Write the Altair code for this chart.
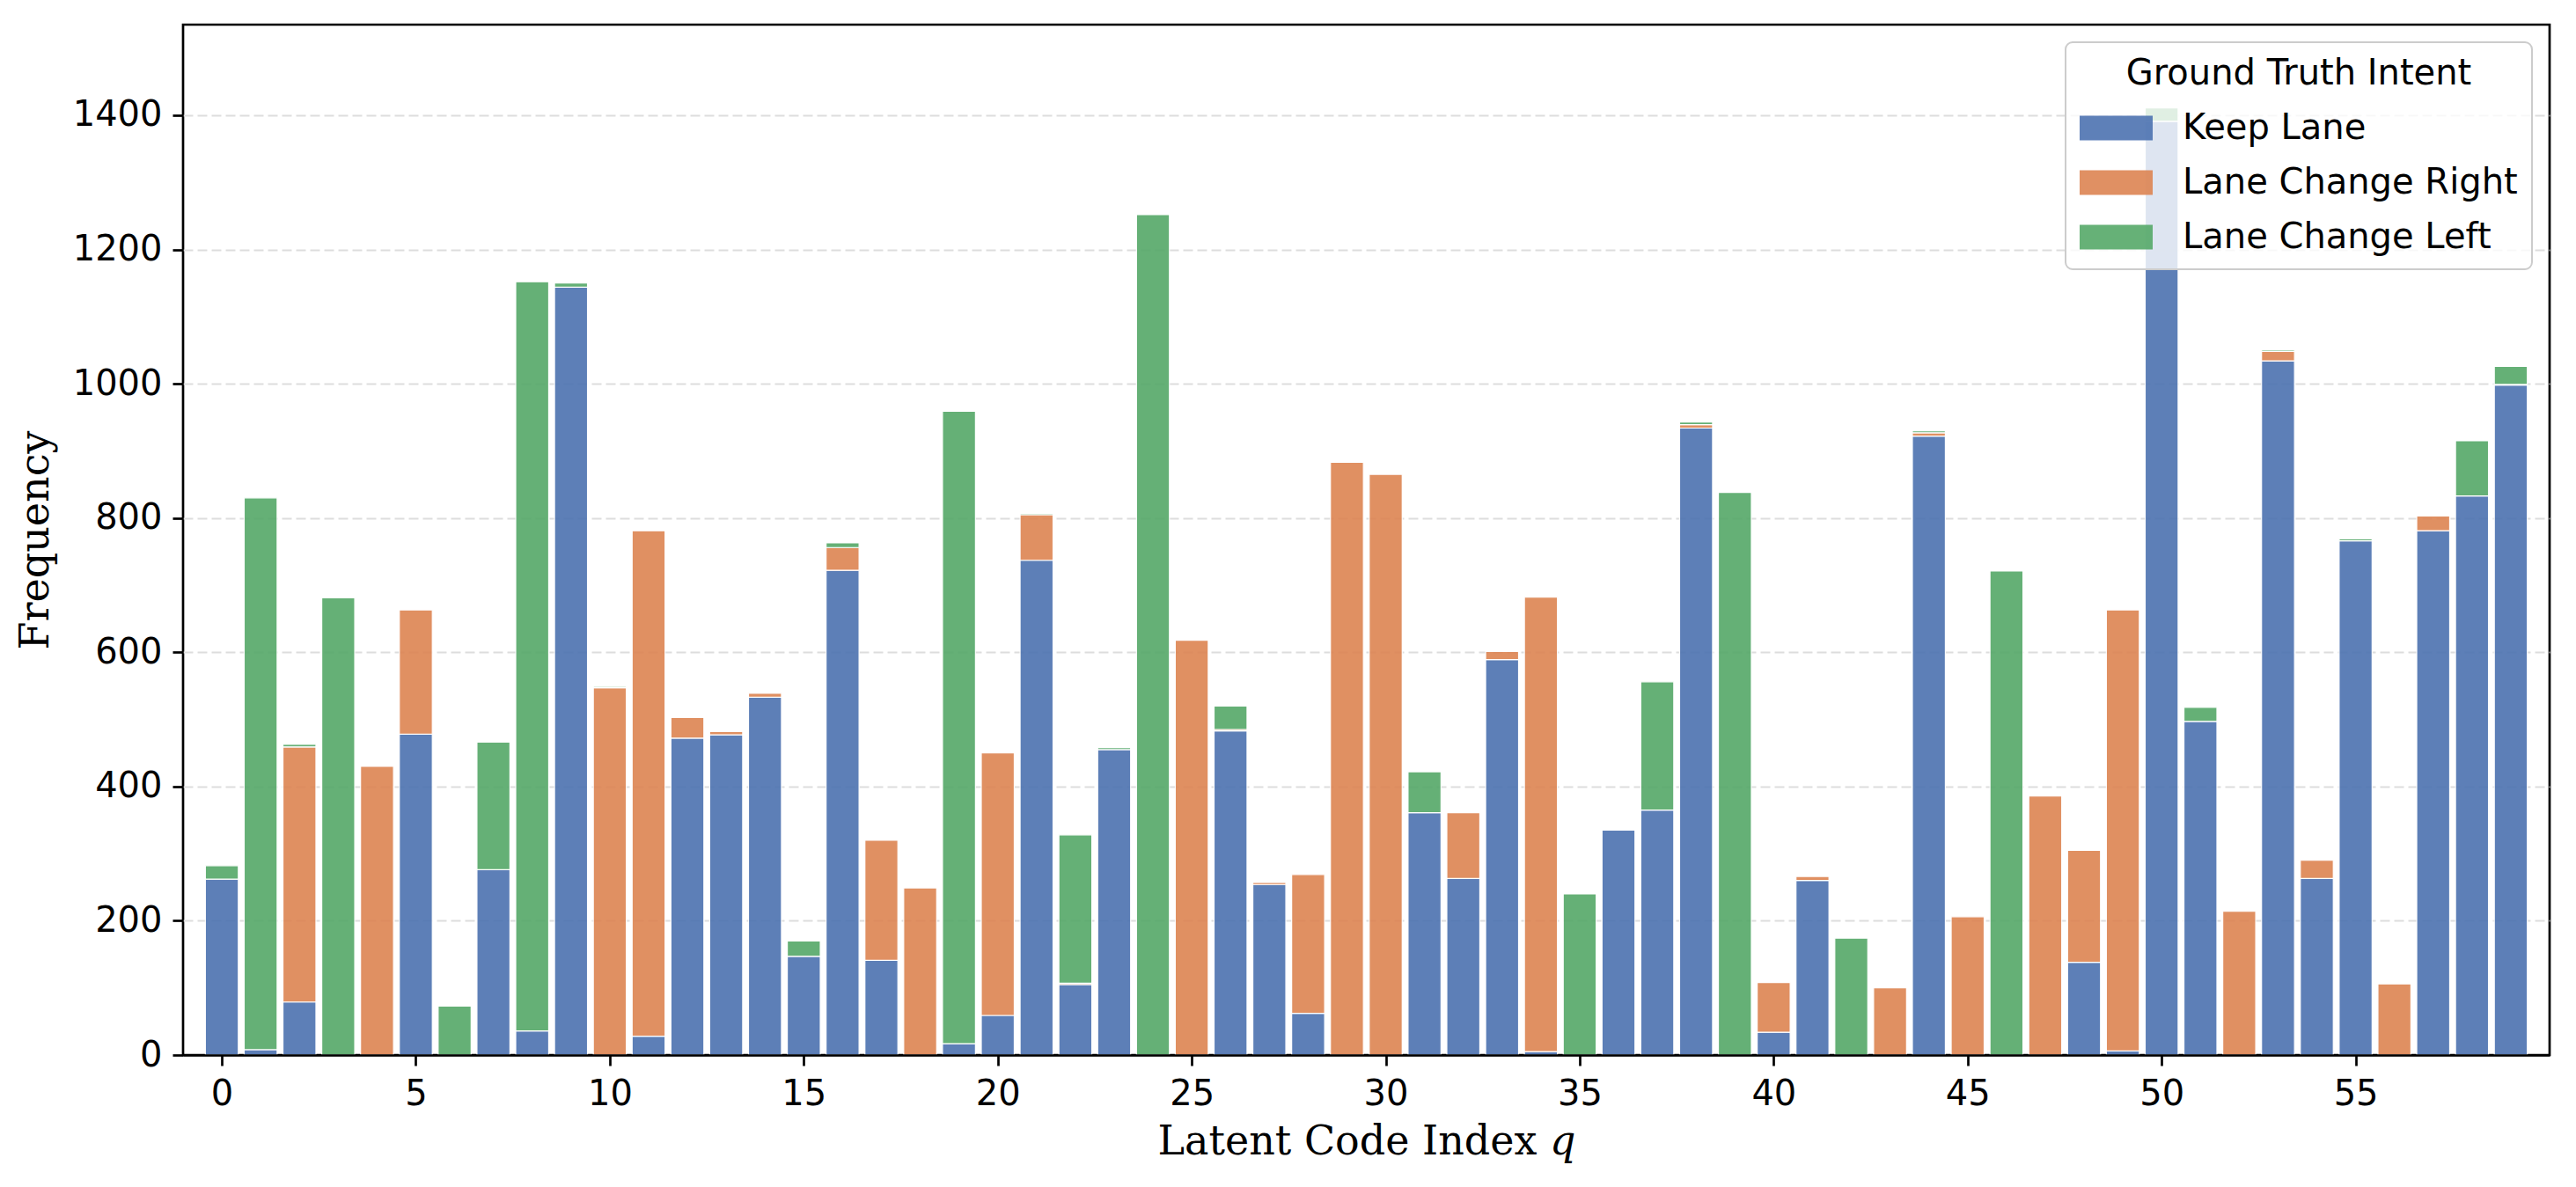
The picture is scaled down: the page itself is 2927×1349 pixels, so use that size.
import altair as alt
import pandas as pd

q_index = list(range(60))

keep_lane = [262, 8, 79, 0, 0, 478, 0, 276, 36, 1144,
             0, 28, 472, 477, 533, 147, 722, 141, 0, 17,
             59, 737, 105, 455, 0, 0, 483, 254, 62, 0,
             0, 361, 263, 589, 5, 0, 335, 365, 934, 0,
             34, 260, 0, 0, 922, 0, 0, 0, 138, 6,
             1391, 497, 0, 1034, 263, 766, 0, 781, 833, 998]

change_right = [0, 0, 380, 0, 430, 185, 0, 0, 0, 0,
                547, 753, 31, 5, 6, 0, 34, 179, 249, 0,
                391, 68, 2, 0, 0, 618, 2, 3, 207, 883,
                865, 0, 98, 12, 677, 0, 0, 0, 5, 0,
                74, 6, 0, 100, 5, 206, 0, 386, 167, 657,
                0, 0, 214, 14, 27, 0, 106, 22, 0, 1]

change_left = [20, 822, 4, 681, 0, 0, 73, 190, 1116, 6,
               2, 0, 0, 0, 0, 23, 7, 0, 0, 942,
               0, 2, 221, 3, 1252, 0, 35, 0, 0, 0,
               0, 61, 0, 0, 0, 240, 0, 191, 4, 838,
               0, 0, 174, 0, 3, 0, 721, 0, 0, 0,
               20, 21, 0, 2, 0, 3, 0, 0, 82, 27]

intents = ["Keep Lane", "Lane Change Right", "Lane Change Left"]
colors = ["#4C72B0", "#DD8452", "#55A868"]
x_ticks = [0, 5, 10, 15, 20, 25, 30, 35, 40, 45, 50, 55]
y_ticks = [0, 200, 400, 600, 800, 1000, 1200, 1400]

rows = []
for order, (name, series) in enumerate(zip(intents, [keep_lane, change_right, change_left])):
    for q, v in zip(q_index, series):
        rows.append({"q": q, "intent": name, "count": v, "order": order})
df = pd.DataFrame(rows)

bar_half = 0.425

chart = (
    alt.Chart(df)
    .transform_stack(stack="count", groupby=["q"], as_=["y0", "y1"],
                     sort=[alt.SortField("order", order="ascending")])
    .transform_filter("datum.count > 0")
    .transform_calculate(x0=f"datum.q - {bar_half}", x1=f"datum.q + {bar_half}")
    .mark_bar(opacity=0.9, stroke="white", strokeWidth=1.2)
    .encode(
        x=alt.X("x0:Q",
                scale=alt.Scale(domain=[-1, 60], nice=False, zero=False),
                axis=alt.Axis(values=x_ticks, title="Latent Code Index 𝑞", grid=False,
                              format="d", domain=True, domainColor="black",
                              domainWidth=2.7, zindex=1)),
        x2="x1:Q",
        y=alt.Y("y0:Q",
                scale=alt.Scale(domain=[0, 1535], nice=False),
                axis=alt.Axis(values=y_ticks, title="Frequency", grid=True, format="d",
                              gridOpacity={"condition": {"test": "datum.value === 0", "value": 0},
                                           "value": 1})),
        y2="y1:Q",
        color=alt.Color("intent:N",
                        scale=alt.Scale(domain=intents, range=colors),
                        sort=intents,
                        legend=alt.Legend(title="Ground Truth Intent")),
        order=alt.Order("order:Q"),
    )
    .properties(
        width=2689,
        height=1171,
        autosize=alt.AutoSizeParams(type="none"),
        padding={"left": 200, "top": 20, "right": 22, "bottom": 142},
    )
    .configure_view(stroke="black", strokeWidth=2.7, fill="white")
    .configure_axis(
        domain=False,
        labelFont="DejaVu Sans",
        labelFontSize=40,
        labelColor="black",
        tickColor="black",
        tickSize=12,
        tickWidth=2.7,
        titleFont="DejaVu Serif",
        titleFontSize=46,
        titleFontWeight="normal",
        titleColor="black",
        gridColor="#dddddd",
        gridDash=[11, 5],
        gridWidth=2,
    )
    .configure_axisX(labelPadding=12, titlePadding=12)
    .configure_axisY(labelPadding=12, titlePadding=18)
    .configure_legend(
        orient="top-right",
        offset=20,
        padding=16,
        fillColor="rgba(255,255,255,0.8)",
        strokeColor="#cccccc",
        strokeWidth=2,
        cornerRadius=8,
        titleFont="DejaVu Sans",
        titleFontSize=40,
        titleFontWeight="normal",
        titleColor="black",
        titleAnchor="middle",
        titlePadding=0,
        titleLimit=0,
        labelFont="DejaVu Sans",
        labelFontSize=40,
        labelColor="black",
        labelOffset=34,
        labelLimit=0,
        rowPadding=0,
        symbolType="M-1,-0.34H1V0.34H-1Z",
        symbolSize=6889,
        symbolStrokeWidth=0,
        symbolOpacity=0.9,
    )
)

chart.save("out.html", embed_options={"renderer": "svg", "actions": False})
